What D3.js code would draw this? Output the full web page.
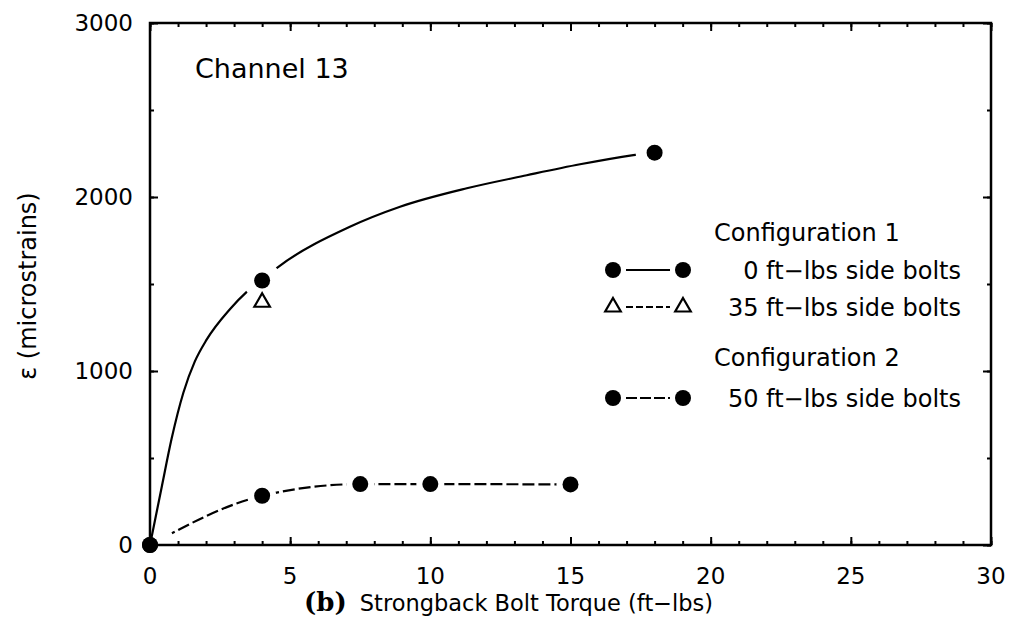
<!DOCTYPE html>
<html>
<head>
<meta charset="utf-8">
<script src="https://cdn.jsdelivr.net/npm/d3@7"></script>
<style>
  body { margin: 0; background: #fff; }
  text { font-family: "DejaVu Sans", sans-serif; fill: #000; }
</style>
</head>
<body>
<script>
// points (torque ft-lbs, microstrain)
var config1Torque = [0, 4, 18];
var config1Strain = [0, 1520, 2255];
var config1bTorque = [4];          // 35 ft-lbs side bolts
var config1bStrain = [1395];
var config2Torque = [0, 4, 7.5, 10, 15];
var config2Strain = [0, 283, 350, 350, 348];

// fitted curve of config 1
var fitTorque = [0, 0.42, 0.77, 1.19, 1.6, 2.02, 2.85, 3.45, 4, 4.58, 7.13, 8.92, 11.3, 13.44, 15.34, 17.24, 18];
var fitStrain = [0, 335, 610, 875, 1055, 1180, 1355, 1455, 1525, 1599, 1829, 1944, 2050, 2125, 2188, 2241, 2258];

var xTicks = [0, 5, 10, 15, 20, 25, 30];
var yTicks = [0, 1000, 2000, 3000];

window.onload = function(){
	var w = 1012, h = 629;
	var svg = d3.select("body").append("svg")
		.attr("width", w)
		.attr("height", h);

	var x = d3.scaleLinear().domain([0, 30]).range([150, 991]);
	var y = d3.scaleLinear().domain([0, 3000]).range([545, 23]);

	function zip(a, b){ return a.map(function(v, i){ return [v, b[i]]; }); }
	var pts1 = zip(config1Torque, config1Strain);
	var pts1b = zip(config1bTorque, config1bStrain);
	var pts2 = zip(config2Torque, config2Strain);
	var fit = zip(fitTorque, fitStrain);

	var line = d3.line()
		.x(function(d){ return x(d[0]); })
		.y(function(d){ return y(d[1]); })
		.curve(d3.curveMonotoneX);

	// lower dashed curve
	svg.append("path")
		.attr("d", line(pts2))
		.attr("fill", "none")
		.attr("stroke", "#000")
		.attr("stroke-width", 2.2)
		.attr("stroke-dasharray", "12,4");
	// white halos leave the gap round each marker
	svg.selectAll(".halo2").data(pts2).enter().append("circle")
		.attr("cx", function(d){ return x(d[0]); })
		.attr("cy", function(d){ return y(d[1]); })
		.attr("r", function(d, i){ return i == 0 ? 25 : 14; })
		.attr("fill", "#fff");

	// upper solid curve
	svg.append("path")
		.attr("d", line(fit))
		.attr("fill", "none")
		.attr("stroke", "#000")
		.attr("stroke-width", 2.2);
	svg.selectAll(".halo1").data(pts1.slice(1)).enter().append("circle")
		.attr("cx", function(d){ return x(d[0]); })
		.attr("cy", function(d){ return y(d[1]); })
		.attr("r", 19)
		.attr("fill", "#fff");

	// frame
	svg.append("rect")
		.attr("x", x(0)).attr("y", y(3000))
		.attr("width", x(30) - x(0)).attr("height", y(0) - y(3000))
		.attr("fill", "none")
		.attr("stroke", "#000")
		.attr("stroke-width", 2.5);

	// inward ticks on all four sides
	function ticks(axis, tr){
		var g = svg.append("g").attr("transform", tr).call(axis);
		g.select(".domain").remove();
		g.selectAll("line").attr("stroke", "#000").attr("stroke-width", 2);
	}
	var xMinor = d3.range(0, 31, 1), yMinor = d3.range(0, 3001, 500);
	ticks(d3.axisBottom(x).tickValues(xMinor).tickSize(-4).tickFormat(""), "translate(0," + y(0) + ")");
	ticks(d3.axisBottom(x).tickValues(xTicks).tickSize(-8).tickFormat(""), "translate(0," + y(0) + ")");
	ticks(d3.axisTop(x).tickValues(xMinor).tickSize(-4).tickFormat(""), "translate(0," + y(3000) + ")");
	ticks(d3.axisTop(x).tickValues(xTicks).tickSize(-8).tickFormat(""), "translate(0," + y(3000) + ")");
	ticks(d3.axisLeft(y).tickValues(yMinor).tickSize(-4).tickFormat(""), "translate(" + x(0) + ",0)");
	ticks(d3.axisLeft(y).tickValues(yTicks).tickSize(-8).tickFormat(""), "translate(" + x(0) + ",0)");
	ticks(d3.axisRight(y).tickValues(yMinor).tickSize(-4).tickFormat(""), "translate(" + x(30) + ",0)");
	ticks(d3.axisRight(y).tickValues(yTicks).tickSize(-8).tickFormat(""), "translate(" + x(30) + ",0)");

	// tick labels
	svg.selectAll(".xlab").data(xTicks).enter().append("text")
		.attr("x", function(d){ return x(d); })
		.attr("y", 584)
		.attr("text-anchor", "middle")
		.style("font-size", "23px")
		.text(function(d){ return d; });
	svg.selectAll(".ylab").data(yTicks).enter().append("text")
		.attr("x", 133)
		.attr("y", function(d){ return y(d) + 8; })
		.attr("text-anchor", "end")
		.style("font-size", "23px")
		.text(function(d){ return d; });

	// axis titles
	var xt = svg.append("text")
		.attr("x", 304)
		.attr("y", 611)
		.style("font-size", "22.5px");
	xt.append("tspan")
		.style("font-family", "'DejaVu Serif', serif")
		.style("font-weight", "bold")
		.style("font-size", "26px")
		.text("(b)");
	xt.append("tspan").attr("dx", 13).text("Strongback Bolt Torque (ft\u2212lbs)");

	svg.append("text")
		.attr("transform", "translate(36,286) rotate(-90)")
		.attr("text-anchor", "middle")
		.style("font-size", "24px")
		.text("\u03b5  (microstrains)");

	svg.append("text")
		.attr("x", 195)
		.attr("y", 78)
		.style("font-size", "27px")
		.text("Channel 13");

	// markers
	function dots(data){
		svg.selectAll(null).data(data).enter().append("circle")
			.attr("cx", function(d){ return x(d[0]); })
			.attr("cy", function(d){ return y(d[1]); })
			.attr("r", 8)
			.attr("fill", "#000");
	}
	dots(pts1);
	dots(pts2);
	var tri = d3.symbol().type(d3.symbolTriangle).size(105);
	svg.selectAll(".tri").data(pts1b).enter().append("path")
		.attr("d", tri)
		.attr("transform", function(d){ return "translate(" + x(d[0]) + "," + y(d[1]) + ")"; })
		.attr("fill", "#fff")
		.attr("stroke", "#000")
		.attr("stroke-width", 2.2);

	// legend
	var legend = svg.append("g");
	legend.append("text").attr("x", 714).attr("y", 241).style("font-size", "24px").text("Configuration 1");
	legend.append("text").attr("x", 714).attr("y", 366).style("font-size", "24px").text("Configuration 2");
	var rows = [
		{ y: 270, sym: "dot", dash: null, label: "0 ft\u2212lbs side bolts" },
		{ y: 307, sym: "tri", dash: "7,3", label: "35 ft\u2212lbs side bolts" },
		{ y: 398, sym: "dot", dash: "11,3", label: "50 ft\u2212lbs side bolts" }
	];
	rows.forEach(function(r){
		legend.append("line")
			.attr("x1", 626).attr("x2", 670)
			.attr("y1", r.y).attr("y2", r.y)
			.attr("stroke", "#000")
			.attr("stroke-width", 2)
			.attr("stroke-dasharray", r.dash);
		[613, 683].forEach(function(cx){
			if (r.sym == "dot"){
				legend.append("circle").attr("cx", cx).attr("cy", r.y).attr("r", 8).attr("fill", "#000");
			} else {
				legend.append("path").attr("d", tri)
					.attr("transform", "translate(" + cx + "," + r.y + ")")
					.attr("fill", "#fff").attr("stroke", "#000").attr("stroke-width", 2.2);
			}
		});
		legend.append("text")
			.attr("x", 961)
			.attr("y", r.y + 9)
			.attr("text-anchor", "end")
			.style("font-size", "24px")
			.text(r.label);
	});
};
</script>
</body>
</html>
